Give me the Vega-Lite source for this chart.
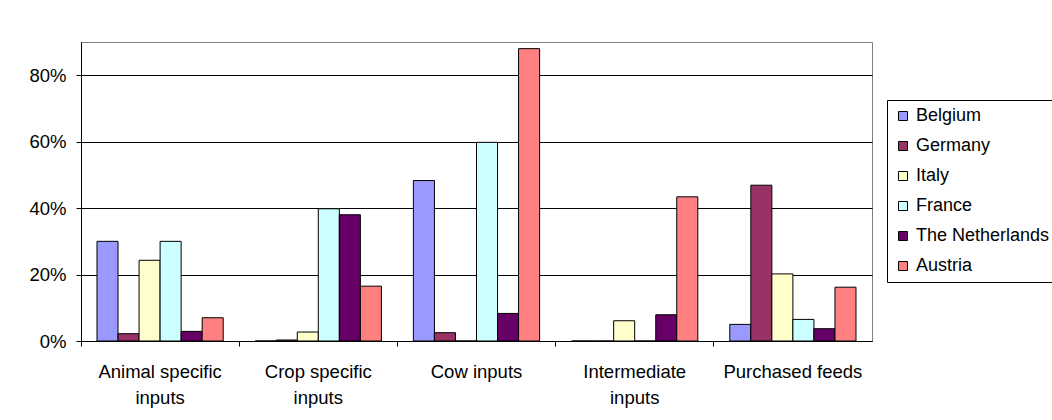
{
  "$schema": "https://vega.github.io/schema/vega-lite/v6.json",
  "autosize": "none",
  "width": 791,
  "height": 299,
  "padding": {"left": 81, "top": 42, "right": 180, "bottom": 79},
  "background": "white",
  "config": {
    "font": "Liberation Sans",
    "view": {"stroke": "#808080", "strokeWidth": 1}
  },
  "data": {
    "values": [
      {"category": "Animal specific inputs", "country": "Belgium", "share": 0.30},
      {"category": "Animal specific inputs", "country": "Germany", "share": 0.022},
      {"category": "Animal specific inputs", "country": "Italy", "share": 0.243},
      {"category": "Animal specific inputs", "country": "France", "share": 0.30},
      {"category": "Animal specific inputs", "country": "The Netherlands", "share": 0.029},
      {"category": "Animal specific inputs", "country": "Austria", "share": 0.07},
      {"category": "Crop specific inputs", "country": "Belgium", "share": 0},
      {"category": "Crop specific inputs", "country": "Germany", "share": 0.003},
      {"category": "Crop specific inputs", "country": "Italy", "share": 0.027},
      {"category": "Crop specific inputs", "country": "France", "share": 0.398},
      {"category": "Crop specific inputs", "country": "The Netherlands", "share": 0.38},
      {"category": "Crop specific inputs", "country": "Austria", "share": 0.165},
      {"category": "Cow inputs", "country": "Belgium", "share": 0.483},
      {"category": "Cow inputs", "country": "Germany", "share": 0.025},
      {"category": "Cow inputs", "country": "Italy", "share": 0},
      {"category": "Cow inputs", "country": "France", "share": 0.598},
      {"category": "Cow inputs", "country": "The Netherlands", "share": 0.083},
      {"category": "Cow inputs", "country": "Austria", "share": 0.88},
      {"category": "Intermediate inputs", "country": "Belgium", "share": 0},
      {"category": "Intermediate inputs", "country": "Germany", "share": 0},
      {"category": "Intermediate inputs", "country": "Italy", "share": 0.061},
      {"category": "Intermediate inputs", "country": "France", "share": 0},
      {"category": "Intermediate inputs", "country": "The Netherlands", "share": 0.079},
      {"category": "Intermediate inputs", "country": "Austria", "share": 0.434},
      {"category": "Purchased feeds", "country": "Belgium", "share": 0.05},
      {"category": "Purchased feeds", "country": "Germany", "share": 0.469},
      {"category": "Purchased feeds", "country": "Italy", "share": 0.202},
      {"category": "Purchased feeds", "country": "France", "share": 0.065},
      {"category": "Purchased feeds", "country": "The Netherlands", "share": 0.037},
      {"category": "Purchased feeds", "country": "Austria", "share": 0.162}
    ]
  },
  "mark": {"type": "bar", "stroke": "#000000", "strokeWidth": 1},
  "encoding": {
    "x": {
      "field": "category",
      "type": "nominal",
      "sort": ["Animal specific inputs", "Crop specific inputs", "Cow inputs", "Intermediate inputs", "Purchased feeds"],
      "scale": {"paddingInner": 0, "paddingOuter": 0},
      "axis": {
        "title": null,
        "labelAngle": 0,
        "bandPosition": 0,
        "labelFontSize": 18.5,
        "labelColor": "#000000",
        "labelPadding": 16,
        "labelLineHeight": 26,
        "labelBaseline": "top",
        "labelExpr": "datum.value == 'Cow inputs' || datum.value == 'Purchased feeds' ? datum.value : [substring(datum.value, 0, length(datum.value) - 7), 'inputs']",
        "domainColor": "#000000",
        "tickColor": "#000000",
        "tickSize": 5,
        "grid": false
      }
    },
    "xOffset": {
      "field": "country",
      "type": "nominal",
      "sort": ["Belgium", "Germany", "Italy", "France", "The Netherlands", "Austria"],
      "scale": {"paddingInner": 0, "paddingOuter": 0.76}
    },
    "y": {
      "field": "share",
      "type": "quantitative",
      "scale": {"domain": [0, 0.9], "nice": false, "zero": true},
      "axis": {
        "title": null,
        "values": [0, 0.2, 0.4, 0.6, 0.8],
        "format": ".0%",
        "grid": true,
        "gridColor": "#000000",
        "gridWidth": 1,
        "gridOpacity": 1,
        "domainColor": "#000000",
        "tickColor": "#000000",
        "tickSize": 5,
        "labelFontSize": 18.5,
        "labelColor": "#000000",
        "labelPadding": 10
      }
    },
    "color": {
      "field": "country",
      "type": "nominal",
      "sort": ["Belgium", "Germany", "Italy", "France", "The Netherlands", "Austria"],
      "scale": {
        "domain": ["Belgium", "Germany", "Italy", "France", "The Netherlands", "Austria"],
        "range": ["#9999FF", "#993366", "#FFFFCC", "#CCFFFF", "#660066", "#FF8080"]
      },
      "legend": {
        "title": null,
        "orient": "none",
        "legendX": 806,
        "legendY": 58,
        "symbolType": "square",
        "symbolSize": 81,
        "symbolStrokeColor": "#000000",
        "symbolStrokeWidth": 1,
        "labelFontSize": 18,
        "labelColor": "#000000",
        "labelOffset": 4,
        "rowPadding": 12,
        "padding": 7,
        "strokeColor": "#000000",
        "fillColor": "#FFFFFF",
        "labelLimit": 300
      }
    }
  }
}
